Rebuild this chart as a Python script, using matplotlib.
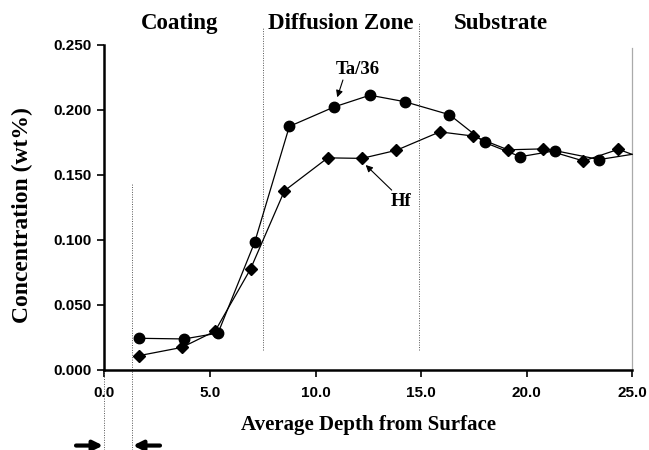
import matplotlib
matplotlib.use("Agg")
import matplotlib.pyplot as plt
from matplotlib.ticker import FormatStrFormatter

# depth (x) and concentration (wt%)
ta_depth = [1.65, 3.77, 5.38, 7.12, 8.76, 10.89, 12.58, 14.23, 16.35, 18.01,
            19.71, 21.37, 23.45, 25.0]
ta_conc = [0.024, 0.0235, 0.028, 0.098, 0.187, 0.202, 0.211, 0.206, 0.196,
           0.1747, 0.1637, 0.1683, 0.1615, 0.1655]
hf_depth = [1.62, 3.67, 5.24, 6.92, 8.53, 10.58, 12.2, 13.83, 15.89, 17.46,
            19.12, 20.77, 22.7, 24.36, 25.0]
hf_conc = [0.0106, 0.017, 0.0295, 0.0773, 0.1375, 0.1628, 0.1624, 0.1686,
           0.1828, 0.1796, 0.169, 0.1697, 0.1604, 0.1694, 0.1655]

zones = ["Coating", "Diffusion Zone", "Substrate"]
zone_x = [3.58, 11.2, 18.8]
xticks = [0, 5, 10, 15, 20, 25]
yticks = [0.0, 0.05, 0.10, 0.15, 0.20, 0.25]

serif = "Liberation Serif"
sans = "Liberation Sans"

fig = plt.figure(figsize=(6.49, 4.5), dpi=100)
ax = fig.add_axes([104.5 / 649, 1 - 369.5 / 450, 527.5 / 649, 325 / 450])

ax.plot(ta_depth, ta_conc, color="black", lw=0.9, marker="o", ms=7.5,
        markevery=list(range(len(ta_depth) - 1)), clip_on=False, zorder=3)
ax.plot(hf_depth, hf_conc, color="black", lw=0.9, marker="D", ms=6.5,
        markevery=list(range(len(hf_depth) - 1)), clip_on=False, zorder=3)

ax.set_xlim(0, 25)
ax.set_ylim(0, 0.25)
ax.set_xticks(xticks)
ax.set_yticks(yticks)
ax.xaxis.set_major_formatter(FormatStrFormatter("%.1f"))
ax.yaxis.set_major_formatter(FormatStrFormatter("%.3f"))
for lab in ax.get_xticklabels() + ax.get_yticklabels():
    lab.set_fontfamily(sans)
    lab.set_fontweight("bold")
    lab.set_fontsize(11)
ax.tick_params(axis="both", direction="out", length=5, width=1.2, color="black")
ax.tick_params(axis="x", pad=7)
ax.tick_params(axis="y", pad=4)

for side in ["top", "right"]:
    ax.spines[side].set_visible(False)
for side in ["left", "bottom"]:
    ax.spines[side].set_linewidth(1.8)

# zone boundaries
dash = dict(color="#555555", lw=0.7, ls=(0, (1, 1.5)), clip_on=False)
ax.plot([7.5, 7.5], [0.015, 0.2627], **dash)
ax.plot([14.9, 14.9], [0.015, 0.267], **dash)
ax.plot([1.3, 1.3], [-0.062, 0.143], **dash)
ax.plot([0.0, 0.0], [-0.062, 0.0], **dash)
ax.plot([25.0, 25.0], [0.0, 0.247], color="#aaaaaa", lw=0.9, clip_on=False)

for name, x in zip(zones, zone_x):
    ax.text(x, 0.2665, name, ha="center", va="center", fontsize=16.5,
            fontweight="bold", fontfamily=serif)

# series labels with pointer arrows
pointer = dict(arrowstyle="-|>", color="black", lw=0.8, mutation_scale=10,
               shrinkA=0, shrinkB=0)
ax.text(12.0, 0.2305, "Ta/36", ha="center", va="center", fontsize=13.5,
        fontweight="bold", fontfamily=serif)
ax.annotate("", xy=(11.03, 0.2094), xytext=(11.3, 0.2227), arrowprops=pointer)
ax.text(14.05, 0.1295, "Hf", ha="center", va="center", fontsize=13.5,
        fontweight="bold", fontfamily=serif)
ax.annotate("", xy=(12.38, 0.1573), xytext=(13.61, 0.138), arrowprops=pointer)

# coating thickness arrows under the axis
big = dict(arrowstyle="-|>", color="black", lw=3, mutation_scale=14,
           shrinkA=0, shrinkB=0)
ax.annotate("", xy=(-0.07, -0.0585), xytext=(-1.35, -0.0585),
            arrowprops=big, annotation_clip=False)
ax.annotate("", xy=(1.35, -0.0585), xytext=(2.63, -0.0585),
            arrowprops=big, annotation_clip=False)

ax.set_xlabel("Average Depth from Surface", fontsize=15, fontweight="bold",
              fontfamily=serif, labelpad=11)
ax.set_ylabel("Concentration (wt%)", fontsize=17, fontweight="bold",
              fontfamily=serif)
ax.yaxis.set_label_coords(-0.135, 0.475)

fig.savefig("out.png", dpi=100)
